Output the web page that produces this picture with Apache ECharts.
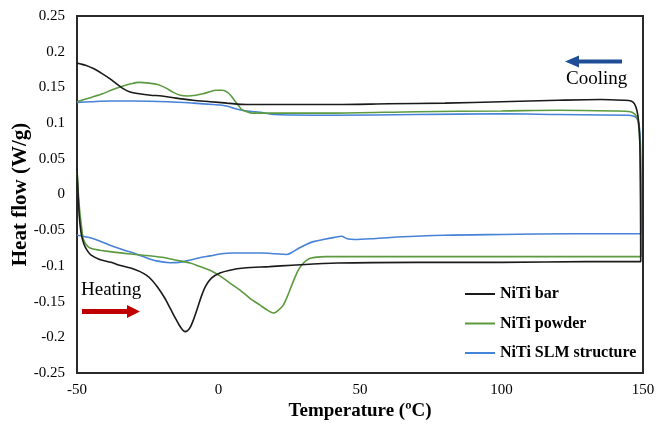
<!DOCTYPE html>
<html>
<head>
<meta charset="utf-8">
<script src="https://cdn.jsdelivr.net/npm/echarts@6/dist/echarts.min.js"></script>
<style>html,body{margin:0;padding:0;background:#fff}#c{width:656px;height:424px}</style>
</head>
<body>
<div id="c"></div>
<script>
// Data: [temperature (ºC), heat flow (W/g)]
const seriesNames = ['NiTi bar', 'NiTi powder', 'NiTi SLM structure'];
const xTicks = [-50, 0, 50, 100, 150];
const yTicks = [-0.25, -0.2, -0.15, -0.1, -0.05, 0, 0.05, 0.1, 0.15, 0.2, 0.25];

const barHeating = [[-50,0.036],[-49.6,0.0],[-49.2,-0.03],[-48.5,-0.055],[-47.5,-0.07],[-46.3,-0.079],[-45,-0.085],[-42,-0.091],[-38,-0.095],[-35,-0.099],[-31,-0.103],[-27.7,-0.108],[-25.5,-0.113],[-23.5,-0.12],[-21.5,-0.13],[-19,-0.145],[-17,-0.16],[-15,-0.175],[-13.2,-0.187],[-11.8,-0.192],[-10.3,-0.188],[-9,-0.177],[-7.5,-0.16],[-6,-0.142],[-4.5,-0.128],[-2.5,-0.117],[0.5,-0.110],[4,-0.106],[9,-0.103],[18,-0.101],[26,-0.099],[42,-0.096],[70,-0.095],[100,-0.095],[130,-0.094],[149.2,-0.094]];
const barCooling = [[149.1,0.0],[148.9,0.07],[148.5,0.1],[147.9,0.117],[147.0,0.127],[145.8,0.131],[143,0.132],[135,0.133],[120,0.132],[100,0.130],[80,0.128],[60,0.127],[40,0.126],[20,0.126],[10,0.126],[3,0.128],[-3,0.130],[-9,0.132],[-15,0.135],[-20,0.138],[-24,0.139],[-28,0.141],[-31.5,0.144],[-34,0.149],[-36,0.155],[-38.3,0.162],[-41,0.169],[-44,0.176],[-47,0.181],[-50,0.184]];

const powderHeating = [[-50,0.034],[-49.5,0.0],[-49,-0.025],[-48.4,-0.045],[-47.8,-0.062],[-46.8,-0.07],[-45.4,-0.075],[-42,-0.078],[-38.3,-0.080],[-32,-0.083],[-26.6,-0.085],[-20,-0.088],[-14.8,-0.092],[-10,-0.096],[-6.5,-0.101],[-3,-0.106],[0.5,-0.114],[4,-0.124],[7.6,-0.134],[11,-0.145],[14.7,-0.155],[17.3,-0.162],[19.4,-0.166],[21.2,-0.162],[22.9,-0.155],[24.6,-0.14],[26.4,-0.122],[28.2,-0.106],[30,-0.096],[32,-0.09],[34,-0.088],[38,-0.087],[70,-0.087],[110,-0.087],[149.3,-0.087]];
const powderCooling = [[149.2,0.0],[149.0,0.06],[148.6,0.092],[148.0,0.106],[147.0,0.113],[145.5,0.116],[140,0.117],[120,0.118],[100,0.117],[70,0.116],[40,0.114],[20,0.114],[12,0.114],[10,0.116],[8.2,0.119],[7,0.125],[5.8,0.131],[4.5,0.138],[3.2,0.143],[1.5,0.146],[-1,0.146],[-3,0.144],[-5.5,0.141],[-8,0.139],[-11,0.138],[-13.5,0.139],[-16,0.143],[-18.5,0.149],[-21.5,0.154],[-24.5,0.156],[-28,0.157],[-31,0.155],[-34.5,0.151],[-38,0.146],[-41,0.141],[-45,0.136],[-50,0.130]];

const slmHeating = [[-50,-0.057],[-46,-0.06],[-42,-0.065],[-38.3,-0.071],[-34,-0.077],[-30,-0.082],[-26.6,-0.087],[-22,-0.093],[-17.1,-0.0955],[-14,-0.095],[-11.2,-0.093],[-7,-0.089],[-3,-0.086],[1,-0.083],[5.2,-0.082],[10,-0.082],[15,-0.082],[20,-0.083],[24,-0.084],[26,-0.081],[28.5,-0.075],[31,-0.07],[33.5,-0.066],[37,-0.063],[41,-0.06],[43.5,-0.0585],[45.5,-0.062],[48,-0.063],[54,-0.062],[63,-0.0595],[80,-0.057],[100,-0.056],[125,-0.055],[149.4,-0.055]];
const slmCooling = [[149.3,0.02],[149.1,0.07],[148.7,0.095],[148.1,0.105],[147.2,0.109],[145,0.111],[120,0.112],[100,0.113],[70,0.112],[40,0.111],[20,0.112],[14.7,0.115],[10,0.117],[6,0.120],[2.9,0.124],[-2,0.126],[-8.9,0.128],[-18,0.130],[-30,0.131],[-38.3,0.131],[-45,0.130],[-50,0.129]];

const fontFamily = 'Liberation Serif';
const colors = ['#1a1a1a', '#5b9a3e', '#4582d8'];
const loops = [barHeating.concat(barCooling), powderHeating.concat(powderCooling), slmHeating.concat(slmCooling)];

const chart = echarts.init(document.getElementById('c'), null, {renderer: 'canvas'});

function arrow(x1, x2, y, thick, headLen, headH, color) {
  const dir = x2 > x1 ? 1 : -1;
  const shaftEnd = x2 - dir * headLen;
  return {
    type: 'group',
    children: [
      {type: 'rect', shape: {x: Math.min(x1, shaftEnd), y: y - thick / 2, width: Math.abs(shaftEnd - x1), height: thick}, style: {fill: color}},
      {type: 'polygon', shape: {points: [[shaftEnd, y - headH / 2], [x2, y], [shaftEnd, y + headH / 2]]}, style: {fill: color}}
    ]
  };
}

chart.setOption({
  animation: false,
  backgroundColor: '#fff',
  grid: {left: 77, right: 13, top: 16, bottom: 51, show: true, borderColor: '#2a2a2a', borderWidth: 2, containLabel: false, outerBoundsMode: 'none'},
  xAxis: {
    type: 'value', min: xTicks[0], max: xTicks[xTicks.length - 1], interval: 50,
    name: 'Temperature (ºC)', nameLocation: 'middle', nameGap: 29, nameMoveOverlap: false,
    nameTextStyle: {fontFamily, fontSize: 19, fontWeight: 'bold', color: '#000'},
    axisLine: {show: true, onZero: false, lineStyle: {color: '#2a2a2a', width: 2}},
    axisTick: {show: false}, splitLine: {show: false},
    axisLabel: {fontFamily, fontSize: 15, color: '#000', margin: 10}
  },
  yAxis: {
    type: 'value', min: yTicks[0], max: yTicks[yTicks.length - 1], interval: 0.05,
    name: 'Heat flow (W/g)', nameLocation: 'middle', nameGap: 46, nameMoveOverlap: false,
    nameTextStyle: {fontFamily, fontSize: 21, fontWeight: 'bold', color: '#000'},
    axisLine: {show: true, onZero: false, lineStyle: {color: '#2a2a2a', width: 2}},
    axisTick: {show: false}, splitLine: {show: false},
    axisLabel: {fontFamily, fontSize: 15, color: '#000', margin: 12}
  },
  legend: {
    data: seriesNames, orient: 'vertical', left: 460, top: 281,
    icon: 'rect', itemWidth: 30, itemHeight: 2, itemGap: 13.5,
    textStyle: {fontFamily, fontSize: 16, fontWeight: 'bold', color: '#000', lineHeight: 16}
  },
  series: seriesNames.map((n, i) => ({
    name: n, type: 'line', data: loops[i], showSymbol: false, symbol: 'none',
    smooth: 0.3, lineStyle: {color: colors[i], width: 1.6}, itemStyle: {color: colors[i]}, z: 3 - i
  })),
  graphic: [
    {type: 'text', left: 566, top: 70, style: {text: 'Cooling', font: '19px "Liberation Serif"', fill: '#000'}},
    arrow(622, 565, 61.5, 4, 14, 12, '#1f4e96'),
    {type: 'text', left: 81, top: 281, style: {text: 'Heating', font: '19px "Liberation Serif"', fill: '#000'}},
    arrow(82, 140, 311.5, 5, 13, 13, '#c00000')
  ]
});
</script>
</body>
</html>
